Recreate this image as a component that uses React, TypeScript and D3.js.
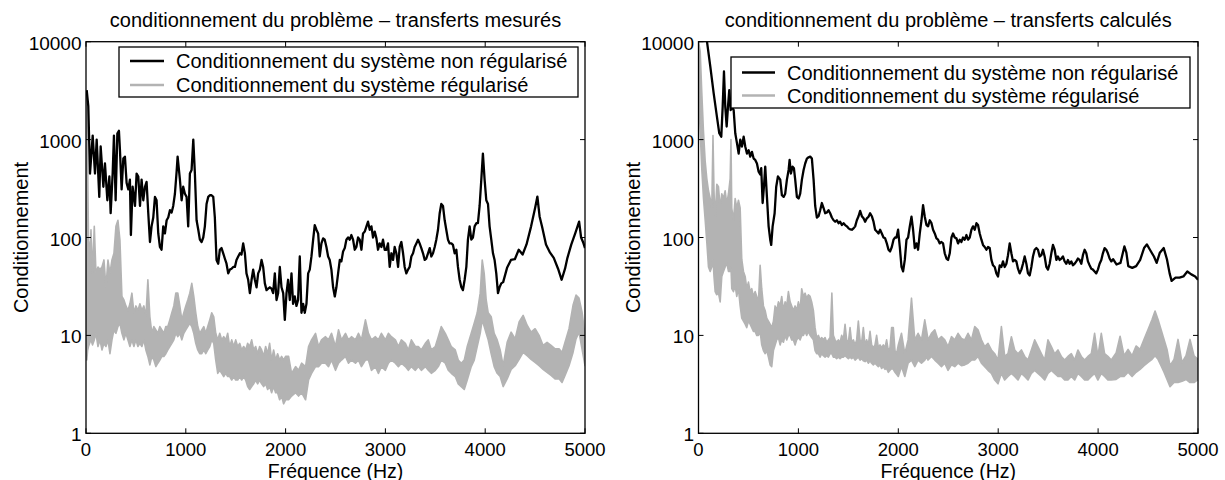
import React from 'react';
import * as d3 from 'd3';

// ---------- DATA ----------
const xTickValues = [0, 1000, 2000, 3000, 4000, 5000];
const yTickValues = [1, 10, 100, 1000, 10000];
const xTickLabels = ['0', '1000', '2000', '3000', '4000', '5000'];
const yTickLabels = ['1', '10', '100', '1000', '10000'];

const titleLeft = 'conditionnement du problème – transferts mesurés';
const titleRight = 'conditionnement du problème – transferts calculés';
const legendLabels = ['Conditionnement du système non régularisé', 'Conditionnement du système régularisé'];
const xLabel = 'Fréquence (Hz)';
const yLabel = 'Conditionnement';

// [frequency, value]
const leftBlack: number[][] = [
  [7,3200],[23,2200],[40,450],[67,1100],[90,450],[107,1000],[133,260],[147,850],[174,330],[190,570],
  [214,240],[234,420],[247,177],[267,450],[280,1100],[297,240],[314,1150],[330,1230],[340,790],[357,310],
  [374,640],[390,670],[407,360],[424,310],[440,390],[450,106],[467,330],[491,210],[507,450],[524,420],
  [541,210],[557,390],[574,240],[591,330],[607,370],[624,177],[641,90],[657,130],[674,160],[691,260],
  [707,240],[724,110],[741,80],[757,75],[774,130],[791,110],[808,150],[824,160],[841,190],[858,180],
  [874,210],[891,280],[908,470],[918,670],[941,390],[958,240],[974,330],[991,280],[1008,260],[1024,130],
  [1041,450],[1058,490],[1075,1000],[1091,450],[1108,150],[1125,120],[1141,95],[1158,90],[1175,100],[1191,130],
  [1208,220],[1225,260],[1241,270],[1258,270],[1275,260],[1291,160],[1308,59],[1325,54],[1341,75],[1358,78],
  [1375,69],[1391,61],[1408,54],[1425,43],[1442,47],[1458,48],[1475,50],[1492,50],[1508,59],[1525,64],
  [1542,69],[1558,67],[1575,87],[1592,69],[1608,43],[1625,37],[1642,27],[1659,37],[1675,47],[1692,37],
  [1709,31],[1725,43],[1742,47],[1759,59],[1775,50],[1792,34],[1809,29],[1825,30],[1842,31],[1859,30],
  [1875,27],[1892,43],[1909,23],[1925,27],[1942,50],[1959,31],[1976,27],[1992,14.4],[2009,27],[2025,37],
  [2042,23],[2059,43],[2075,21],[2092,25],[2109,20],[2125,23],[2142,64],[2159,17],[2176,21],[2192,17],
  [2209,21],[2226,43],[2242,47],[2259,64],[2276,95],[2292,134],[2309,120],[2326,110],[2342,64],[2359,87],
  [2376,98],[2392,95],[2409,80],[2426,64],[2442,59],[2459,47],[2476,31],[2493,25],[2509,31],[2526,43],
  [2543,59],[2559,57],[2576,72],[2593,78],[2609,95],[2626,100],[2643,95],[2659,106],[2676,95],[2693,75],
  [2709,80],[2726,100],[2743,95],[2760,75],[2776,110],[2793,115],[2810,130],[2826,145],[2843,120],[2860,130],
  [2876,100],[2893,115],[2910,98],[2926,75],[2943,87],[2960,80],[2976,95],[2993,75],[3010,75],[3026,87],
  [3043,50],[3060,69],[3077,59],[3093,80],[3110,69],[3127,50],[3143,80],[3160,90],[3177,69],[3193,50],
  [3210,43],[3227,47],[3243,50],[3260,64],[3277,69],[3293,80],[3310,87],[3327,95],[3343,87],[3360,78],
  [3377,69],[3394,59],[3410,61],[3427,69],[3444,78],[3460,64],[3477,69],[3494,80],[3510,95],[3527,120],
  [3544,177],[3560,220],[3577,210],[3594,150],[3610,120],[3627,95],[3644,87],[3661,87],[3677,84],[3694,69],
  [3711,75],[3727,50],[3744,37],[3761,31],[3777,29],[3794,37],[3811,50],[3827,95],[3844,130],[3861,95],
  [3877,100],[3894,130],[3911,140],[3927,140],[3944,210],[3961,390],[3977,720],[3994,390],[4011,240],[4028,220],
  [4044,130],[4061,95],[4078,69],[4094,59],[4111,43],[4128,27],[4144,31],[4161,34],[4180,35],[4219,49],
  [4258,59],[4297,60],[4336,75],[4375,67],[4414,85],[4460,130],[4500,200],[4523,262],[4545,164],[4570,129],
  [4609,85],[4650,70],[4687,62],[4730,48],[4766,37],[4800,48],[4824,62],[4863,85],[4902,110],[4941,145],
  [4961,100],[4980,90],[5000,78]
];

// [frequency, low, high]
const leftGrey: number[][] = [
  [0,6,3000],[8,5.6,2600],[16,7,660],[25,7.7,94],[40,8.5,70],[50,9,120],[65,8,43],[83,9,130],[100,10.5,43],[120,7.7,50],
  [140,9,47],[160,7.1,50],[180,8.3,59],[200,7.7,31],[220,9,59],[240,6.5,43],[260,9,59],[280,11.4,69],[300,10.5,130],[320,12.3,150],
  [340,13.3,94],[360,10.5,25],[380,9,23],[400,10.5,20],[420,9,18],[440,7.7,21],[460,9,27],[480,7.7,17],[500,9,20],[520,7.7,18],
  [540,8.3,21],[560,7.7,18],[580,9,20],[600,7.1,15.5],[620,6.1,37],[640,5,15.5],[660,6.1,10.5],[680,5.6,12.3],[700,4.8,11.4],[720,5.2,10.5],
  [740,5.6,12.3],[760,6.1,11.4],[780,6.1,10.5],[800,6.5,12.3],[820,7.1,12.3],[840,7.7,14.4],[860,8.3,17],[880,9,20],[900,10.5,27],[920,9.7,27],
  [940,10.5,20],[960,9,14.4],[980,10.5,17],[1000,11.4,20],[1020,12.3,23],[1040,13.3,27],[1060,12.3,34],[1080,10.5,25],[1100,8.3,17],[1120,7.1,12.3],
  [1140,6.5,10.5],[1160,6.5,11.4],[1180,7.1,12.3],[1200,6.5,10.5],[1220,7.1,12.3],[1240,7.7,14.4],[1260,9,17],[1280,8.3,15.5],[1300,5.6,10.5],[1320,4.1,9],
  [1340,4.4,10.5],[1360,4.1,9],[1380,3.8,9.7],[1400,4.1,9],[1420,3.8,10.5],[1440,3.8,7.7],[1460,3.5,9],[1480,3.8,7.7],[1500,3.5,9],[1520,3.5,7.7],
  [1540,3.8,8.3],[1560,3.5,7.1],[1580,3.8,7.7],[1600,3.5,7.1],[1620,3.0,8.3],[1640,2.8,7.7],[1660,3.0,9],[1680,3.2,7.1],[1700,3.5,7.7],[1720,3.2,6.5],
  [1740,3.5,7.7],[1760,3.2,7.1],[1780,3.0,6.1],[1800,3.2,7.7],[1820,2.8,6.5],[1840,3.0,8.3],[1860,2.6,5.6],[1880,3.0,7.1],[1900,2.6,5.6],[1920,2.6,6.5],
  [1940,2.2,5.6],[1960,2.4,6.1],[1980,2.0,5.6],[2000,2.2,6.1],[2030,2.2,6.1],[2060,2.4,4.1],[2100,2.6,4.8],[2130,2.4,4.4],[2160,2.6,5.2],[2200,2.2,4.8],
  [2230,3.5,7.7],[2260,4.1,9],[2300,4.8,10.5],[2330,4.8,7.7],[2360,5.2,9],[2400,5.2,9.7],[2430,4.8,9],[2460,5.6,10.5],[2500,4.4,7.7],[2530,5.2,11.4],
  [2560,5.6,9],[2600,6.1,10.5],[2630,5.2,9],[2660,5.6,9.7],[2700,5.2,9],[2730,5.6,10.5],[2760,4.8,9],[2800,5.6,14.4],[2830,5.6,10.5],[2860,4.4,9],
  [2900,4.8,9.7],[2930,4.1,9],[2960,4.8,10.5],[3000,4.4,9],[3030,5.2,10.5],[3060,5.6,9.7],[3100,5.2,9],[3130,4.8,7.7],[3160,5.2,9],[3200,4.8,8.3],
  [3230,4.4,7.1],[3260,4.8,9],[3300,4.4,7.7],[3330,4.8,7.7],[3360,4.4,7.1],[3400,4.8,8.3],[3430,4.4,9],[3460,4.1,7.1],[3500,4.4,7.7],[3530,4.8,9.7],
  [3560,5.6,12.3],[3600,5.2,10.5],[3630,4.4,9],[3660,4.1,7.7],[3700,3.8,7.1],[3730,3.2,5.6],[3760,3.0,5.2],[3790,2.8,5.6],[3820,3.5,7.7],[3860,4.8,10.5],
  [3890,5.6,13.3],[3920,7.7,17],[3950,10.5,27],[3970,14.4,59],[3990,12.3,43],[4010,10.5,23],[4030,9,17],[4060,6.5,15.5],[4090,4.8,10.5],[4120,4.1,9],
  [4150,3.8,7.1],[4180,3.0,4.9],[4220,3.6,8.5],[4260,4.5,10.8],[4300,4.9,9.2],[4340,5.7,13.7],[4380,6.7,16],[4420,6.2,12.7],[4460,5.7,10.8],[4500,5.3,11.7],
  [4540,4.9,10],[4580,4.5,7.9],[4620,4.2,8.5],[4660,3.9,7.9],[4700,3.6,7.3],[4740,3.6,7.3],[4770,3.3,6.7],[4800,3.9,8.5],[4840,4.9,11.7],[4880,6.7,20.3],
  [4910,9.2,25.8],[4940,10.8,24],[4970,7.3,17.4],[5000,4.9,10]
];

const rightBlack: number[][] = [
  [0,40000],[40,20000],[85,10000],[118,5600],[152,2960],[185,1700],[208,1160],[228,1070],[242,2160],[255,4960],
  [268,2160],[282,1360],[295,2160],[308,3200],[322,2000],[335,2160],[352,2000],[368,1160],[385,920],[402,720],
  [418,1000],[435,850],[452,1070],[468,850],[485,720],[502,780],[518,670],[535,750],[552,640],[568,620],
  [585,570],[602,470],[618,440],[628,510],[642,225],[655,330],[668,530],[685,260],[702,130],[718,95],
  [728,84],[742,130],[762,177],[778,330],[795,420],[818,390],[835,270],[852,260],[868,280],[885,390],
  [902,490],[912,620],[925,450],[942,530],[955,510],[968,390],[985,260],[1002,250],[1018,280],[1035,390],
  [1052,490],[1068,570],[1085,640],[1102,660],[1118,670],[1135,640],[1152,390],[1168,210],[1185,160],[1202,165],
  [1218,190],[1235,225],[1252,200],[1268,177],[1285,180],[1302,190],[1318,177],[1335,160],[1352,150],[1368,145],
  [1385,150],[1402,140],[1418,145],[1435,134],[1452,140],[1468,134],[1485,130],[1502,124],[1518,121],[1535,120],
  [1552,124],[1568,130],[1585,150],[1602,165],[1618,187],[1635,165],[1652,157],[1668,145],[1685,157],[1702,163],
  [1718,177],[1735,165],[1752,145],[1768,120],[1785,115],[1802,110],[1818,120],[1835,110],[1852,100],[1868,98],
  [1885,87],[1902,75],[1918,72],[1935,80],[1952,95],[1968,100],[1982,100],[1998,120],[2015,80],[2032,50],
  [2048,45],[2065,59],[2082,95],[2098,100],[2115,130],[2132,163],[2148,120],[2165,78],[2182,87],[2198,75],
  [2215,110],[2232,150],[2248,214],[2265,163],[2282,134],[2298,130],[2315,150],[2332,140],[2348,120],[2365,110],
  [2382,98],[2398,95],[2415,87],[2432,90],[2448,87],[2465,69],[2482,61],[2498,59],[2515,69],[2532,100],
  [2548,110],[2565,100],[2582,98],[2598,87],[2615,95],[2632,90],[2648,100],[2665,95],[2682,106],[2698,95],
  [2715,100],[2732,120],[2748,130],[2765,120],[2782,140],[2798,134],[2815,110],[2832,95],[2848,84],[2865,80],
  [2882,75],[2898,80],[2915,78],[2932,59],[2948,52],[2965,50],[2982,43],[2998,40],[3015,52],[3032,50],
  [3048,57],[3065,50],[3082,54],[3098,66],[3115,87],[3132,69],[3148,57],[3165,59],[3182,57],[3198,48],
  [3215,43],[3232,47],[3248,54],[3265,64],[3282,54],[3298,43],[3315,41],[3332,50],[3348,64],[3365,75],
  [3382,78],[3398,75],[3415,64],[3432,66],[3448,75],[3465,64],[3482,50],[3498,47],[3515,54],[3532,69],
  [3548,84],[3565,75],[3582,59],[3598,64],[3615,59],[3632,61],[3648,64],[3665,57],[3682,54],[3698,59],
  [3715,54],[3732,57],[3748,52],[3765,54],[3782,57],[3798,61],[3815,59],[3832,54],[3848,66],[3865,75],
  [3882,69],[3898,57],[3915,52],[3932,48],[3948,47],[3965,45],[3982,43],[3998,47],[4015,54],[4032,59],
  [4048,69],[4065,78],[4082,75],[4098,69],[4115,61],[4132,57],[4150,60],[4184,53],[4224,55],[4263,81],
  [4283,70],[4302,51],[4342,49],[4381,51],[4421,59],[4460,78],[4488,85],[4519,75],[4559,64],[4586,55],
  [4618,70],[4657,78],[4689,60],[4716,43],[4736,36],[4775,39],[4815,39],[4854,40],[4893,45],[4933,42],
  [4972,40],[5000,37]
];

const rightGrey: number[][] = [
  [0,3000,10000],[17,1200,8000],[33,500,3000],[50,250,1200],[67,150,600],[83,90,400],[100,50,300],[117,45,250],[133,50,200],[145,60,1100],
  [155,40,300],[167,28,150],[183,26,350],[200,27,330],[217,22,200],[233,40,280],[250,45,250],[267,50,300],[283,55,220],[300,45,280],
  [317,45,400],[325,50,1000],[333,30,200],[350,28,150],[367,32,250],[383,25,200],[400,30,240],[417,20,200],[433,15,60],[450,14,45],
  [467,13,40],[483,12,30],[500,14,35],[517,13,28],[533,12,30],[550,11,25],[567,11,28],[583,10,25],[600,10,22],[617,11,52],
  [633,8,30],[650,7,20],[667,6.5,18],[683,7,15],[700,6,14],[717,5,13],[733,4.8,12],[750,7,14],[767,8,20],[783,9,18],
  [800,9.5,22],[817,8,20],[833,9,25],[850,8.5,18],[867,10,22],[883,9,20],[900,10,28],[917,10,22],[933,9,20],[950,9,18],
  [967,8,20],[983,9,18],[1000,9.5,22],[1017,9,18],[1033,10,30],[1050,10,25],[1067,11,27],[1083,10,24],[1100,11,26],[1117,10,25],
  [1133,9.5,22],[1150,9,18],[1167,7,12],[1183,6.5,9.5],[1200,6.5,10],[1217,6,9],[1233,6.5,9.5],[1250,6.2,9],[1267,6,9.5],[1283,6.2,8.5],
  [1300,6,9],[1317,6.5,9.5],[1335,6.5,27],[1350,6,10],[1367,6,9],[1383,5.8,8.5],[1400,6,9],[1417,5.8,8.5],[1433,6,10],[1450,6,9],
  [1467,6.2,13],[1483,6,9],[1500,5.8,8.5],[1517,6,12],[1533,5.8,8.5],[1550,6,9],[1567,5.6,8],[1583,5.8,9],[1600,6,14],[1617,5.6,9],
  [1633,5.8,8.5],[1650,5.5,12],[1667,5.4,8],[1683,5.6,9],[1700,5.2,8],[1717,5.5,11],[1733,5.2,8],[1750,5,7.5],[1767,5.2,8],[1783,5,10],
  [1800,4.8,7.5],[1817,5,8],[1833,4.6,7.5],[1850,4.8,8],[1867,4.5,7.5],[1883,4.6,9],[1900,4.2,7],[1917,4.4,7.5],[1933,4.6,12],[1950,4.5,12],
  [1967,4.2,7],[1983,4,6.5],[2000,3.8,8],[2032,4.8,10.5],[2065,3.8,6.5],[2098,5.2,9],[2132,5.6,24],[2165,4.8,9],[2198,5.6,10.5],[2232,5.2,9],
  [2265,5.6,14.4],[2282,6,11.4],[2298,5.6,9],[2332,6.1,10.5],[2365,5.6,11.4],[2398,5.2,9],[2432,4.8,9.7],[2465,5.2,9],[2498,4.4,7.7],[2532,5,9.7],
  [2565,4.8,9],[2598,5.2,10.5],[2632,4.9,9.3],[2665,5,9],[2698,5.2,10.5],[2732,5.6,9],[2765,5.6,12.3],[2798,6.1,11.4],[2832,5.2,9],[2865,4.8,7.7],
  [2898,4.4,8.3],[2932,4.1,7.1],[2965,3.5,6.5],[2998,3.2,5.6],[3032,4.1,12.3],[3065,3.5,6.1],[3098,3.8,6.5],[3132,4.1,9.7],[3165,3.8,7.1],[3198,3.5,6.5],
  [3232,4.1,7.1],[3265,3.8,6.1],[3298,3.5,5.6],[3332,4.1,7.1],[3365,4.4,9],[3398,4.1,7.7],[3432,3.8,6.5],[3465,3.5,5.6],[3498,4.1,9],[3532,4.4,7.7],
  [3565,4.1,6.5],[3598,3.8,7.1],[3632,3.8,6.1],[3665,3.5,5.6],[3698,3.5,6.1],[3732,3.8,6.5],[3765,3.5,5.6],[3798,4.1,7.1],[3832,3.8,6.1],[3865,3.5,5.6],
  [3898,3.5,6.1],[3932,3.8,6.5],[3965,4.1,10.5],[3998,3.5,6.1],[4032,4.1,10.5],[4065,3.8,6.5],[4098,3.5,6.1],[4132,3.5,5.6],[4180,3.55,6.6],[4220,3.8,9.8],
  [4260,3.8,6.2],[4300,4.2,7.2],[4340,3.8,6.2],[4380,4.2,7.8],[4420,4.5,7.2],[4460,4.9,9.1],[4500,5.3,11.5],[4540,5.7,14.5],[4570,6.2,17.7],[4600,5.7,14.5],
  [4630,4.9,11.5],[4660,4.2,9.1],[4690,3.55,7.2],[4720,3.0,4.9],[4760,3.3,5.7],[4800,3.3,9.1],[4840,3.4,5.3],[4880,3.55,6.2],[4920,3.3,9.1],[4960,3.3,6.2],
  [5000,3.55,5.7]
];

// ---------- CHART ----------
const FONT = '"Liberation Sans", Arial, Helvetica, sans-serif';
const GREY = '#b3b3b3';
const Y_TOP = 41.7;
const Y_BOTTOM = 433.3;

type PanelProps = {
  id: string;
  left: number;
  right: number;
  title: string;
  black: number[][];
  grey: number[][];
  legendBox: [number, number, number, number];
  legendRows: [number, number];
  legendLine: [number, number];
  legendTextX: number;
  yLabelX: number;
};

function Panel(p: PanelProps) {
  const x = d3.scaleLinear().domain([0, 5000]).range([p.left, p.right]);
  const y = d3.scaleLog().domain([1, 10000]).range([Y_BOTTOM, Y_TOP]);
  const line = d3.line<number[]>().x(d => x(d[0])).y(d => y(d[1]));
  const area = d3.area<number[]>().x(d => x(d[0])).y0(d => y(d[1])).y1(d => y(d[2]));
  const cx = (p.left + p.right) / 2;
  const cy = (Y_TOP + Y_BOTTOM) / 2;
  const tick = 5;
  const [lx0, ly0, lx1, ly1] = p.legendBox;
  return (
    <g>
      <defs>
        <clipPath id={p.id}>
          <rect x={p.left} y={Y_TOP} width={p.right - p.left} height={Y_BOTTOM - Y_TOP} />
        </clipPath>
      </defs>
      <text x={cx} y={27} textAnchor="middle" fontSize={20} fontFamily={FONT}>{p.title}</text>
      <g clipPath={`url(#${p.id})`}>
        <path d={area(p.grey) || ''} fill={GREY} stroke={GREY} strokeWidth={1.6} strokeLinejoin="round" />
        <path d={line(p.black) || ''} fill="none" stroke="#000" strokeWidth={2.3} strokeLinejoin="round" />
      </g>
      <rect x={p.left} y={Y_TOP} width={p.right - p.left} height={Y_BOTTOM - Y_TOP} fill="none" stroke="#000" strokeWidth={1.3} />
      {xTickValues.map((v, i) => (
        <g key={'x' + i}>
          <line x1={x(v)} x2={x(v)} y1={Y_BOTTOM} y2={Y_BOTTOM - tick} stroke="#000" strokeWidth={1} />
          <line x1={x(v)} x2={x(v)} y1={Y_TOP} y2={Y_TOP + tick} stroke="#000" strokeWidth={1} />
          <text x={x(v)} y={455.5} textAnchor="middle" fontSize={18.5} fontFamily={FONT}>{xTickLabels[i]}</text>
        </g>
      ))}
      {yTickValues.map((v, i) => (
        <g key={'y' + i}>
          <line x1={p.left} x2={p.left + tick} y1={y(v)} y2={y(v)} stroke="#000" strokeWidth={1} />
          <line x1={p.right} x2={p.right - tick} y1={y(v)} y2={y(v)} stroke="#000" strokeWidth={1} />
          <text x={p.left - 4.5} y={y(v) + 8} textAnchor="end" fontSize={19} fontFamily={FONT}>{yTickLabels[i]}</text>
        </g>
      ))}
      <text x={cx} y={477.5} textAnchor="middle" fontSize={19.5} fontFamily={FONT}>{xLabel}</text>
      <text transform={`translate(${p.yLabelX},${cy}) rotate(-90)`} textAnchor="middle" fontSize={20} fontFamily={FONT}>{yLabel}</text>
      <rect x={lx0} y={ly0} width={lx1 - lx0} height={ly1 - ly0} fill="#fff" stroke="#000" strokeWidth={1.3} />
      {legendLabels.map((lab, i) => (
        <g key={'l' + i}>
          <line x1={p.legendLine[0]} x2={p.legendLine[1]} y1={p.legendRows[i]} y2={p.legendRows[i]} stroke={i === 0 ? '#000' : GREY} strokeWidth={i === 0 ? 2.3 : 2.5} />
          <text x={p.legendTextX} y={p.legendRows[i] + 7} fontSize={20} fontFamily={FONT}>{lab}</text>
        </g>
      ))}
    </g>
  );
}

export default function App() {
  return (
    <svg width={1225} height={480} style={{ position: 'absolute', left: 0, top: 0, background: '#fff' }}>
      <rect width={1225} height={480} fill="#fff" />
      <Panel id="clipL" left={86} right={585} title={titleLeft} black={leftBlack} grey={leftGrey}
        legendBox={[119, 47, 578, 97]} legendRows={[61, 85]} legendLine={[130, 164]} legendTextX={176} yLabelX={28} />
      <Panel id="clipR" left={698.5} right={1198} title={titleRight} black={rightBlack} grey={rightGrey}
        legendBox={[731, 57, 1190, 108]} legendRows={[72.5, 95.5]} legendLine={[742, 775]} legendTextX={787} yLabelX={640} />
    </svg>
  );
}
